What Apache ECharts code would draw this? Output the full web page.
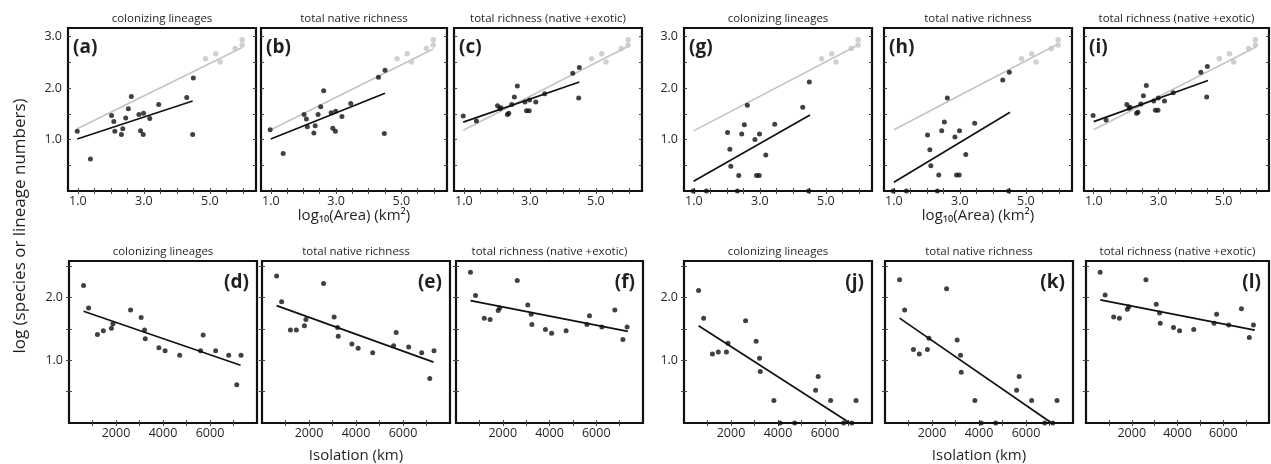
<!DOCTYPE html>
<html><head><meta charset="utf-8">
<script src="https://cdn.jsdelivr.net/npm/echarts@6/dist/echarts.min.js"></script>
<style>html,body{margin:0;padding:0;background:#fff}#c{width:1271px;height:464px}</style>
</head><body><div id="c"></div>
<script>
// ---------- DATA ----------
// log10(Area) of the 19 islands (shared by panels a,b,c,g,h,i)
const areaX = [0.98,1.38,2.02,2.09,2.12,2.32,2.36,2.45,2.53,2.62,2.85,2.90,2.98,2.99,3.18,3.45,4.30,4.48,4.50];
const aY = [1.16,0.62,1.47,1.35,1.16,1.10,1.21,1.42,1.60,1.84,1.49,1.17,1.10,1.51,1.41,1.68,1.82,1.10,2.20];
const bY = [1.19,0.73,1.49,1.40,1.25,1.13,1.27,1.49,1.64,1.95,1.52,1.22,1.16,1.55,1.45,1.70,2.21,1.12,2.35];
const cY = [1.46,1.36,1.66,1.60,1.62,1.49,1.51,1.68,1.83,2.04,1.73,1.56,1.56,1.77,1.73,1.89,2.29,1.81,2.40];
const gY = [0,0,1.14,0.81,0.48,0,0.30,1.11,1.29,1.67,1.00,0.30,0.30,1.11,0.70,1.30,1.63,0,2.12];
const hY = [0,0,1.09,0.80,0.49,0,0.31,1.17,1.34,1.81,1.05,0.31,0.31,1.17,0.71,1.32,2.16,0,2.31];
const iY = [1.47,1.38,1.68,1.61,1.63,1.51,1.53,1.69,1.85,2.05,1.75,1.57,1.57,1.81,1.75,1.91,2.31,1.83,2.42];
// grey comparison points
const greyX = [4.87,5.18,5.31,5.77,5.98,5.98];
const greyY = [2.57,2.67,2.51,2.77,2.94,2.84];
// fitted lines (endpoints)
const aFitBlack = [[0.98,1.01],[4.48,1.75]], aFitGrey = [[0.98,1.21],[5.98,2.79]];
const bFitBlack = [[1.00,1.01],[4.50,1.90]], bFitGrey = [[1.00,1.19],[5.98,2.76]];
const cFitBlack = [[0.98,1.34],[4.50,2.12]], cFitGrey = [[0.98,1.18],[6.00,2.82]];
const gFitBlack = [[0.99,0.19],[4.52,1.48]], gFitGrey = [[0.99,1.17],[5.95,2.83]];
const hFitBlack = [[1.00,0.17],[4.52,1.53]], hFitGrey = [[1.00,1.19],[5.95,2.85]];
const iFitBlack = [[1.00,1.35],[4.52,2.15]], iFitGrey = [[1.00,1.19],[6.00,2.80]];
// isolation (km) of the 19 islands (panels d,e,f,j,k,l)
const isoX = [620,835,1210,1460,1805,1870,2620,3070,3215,3245,3825,4090,4710,5600,5710,6240,6795,7140,7320];
const dY = [2.19,1.83,1.41,1.47,1.51,1.58,1.80,1.68,1.48,1.34,1.20,1.15,1.08,1.15,1.40,1.15,1.08,0.61,1.08];
const eY = [2.34,1.93,1.48,1.48,1.55,1.65,2.22,1.69,1.52,1.38,1.26,1.19,1.12,1.23,1.44,1.21,1.12,0.71,1.15];
const fY = [2.40,2.03,1.67,1.65,1.79,1.83,2.27,1.88,1.73,1.57,1.49,1.43,1.47,1.57,1.71,1.53,1.80,1.33,1.53];
const jY = [2.11,1.67,1.10,1.13,1.13,1.27,1.63,1.30,1.03,0.82,0.36,0,0,0.52,0.74,0.36,0,0,0.36];
const kY = [2.28,1.80,1.17,1.10,1.17,1.35,2.14,1.32,1.08,0.81,0.36,0,0,0.52,0.74,0.36,0,0,0.36];
const lY = [2.40,2.04,1.69,1.67,1.81,1.85,2.28,1.89,1.75,1.59,1.52,1.47,1.49,1.59,1.73,1.56,1.82,1.36,1.56];
const dFit = [[620,1.78],[7300,0.92]];
const eFit = [[620,1.87],[7300,0.97]];
const fFit = [[620,1.95],[7350,1.46]];
const jFit = [[620,1.55],[7060,0]];
const kFit = [[620,1.67],[7090,0]];
const lFit = [[620,1.96],[7380,1.48]];
// tick labels
const areaTickLabels = [1,3,5];
const isoTickLabels = [2000,4000,6000];
const topYTickLabels = [1,2,3];
const bottomYTickLabels = [1,2];
const panelTitles = ['colonizing lineages','total native richness','total richness (native +exotic)'];
const xNameArea = 'log\u2081\u2080(Area) (km\u00B2)';
const xNameIso = 'Isolation (km)';
const yName = 'log (species or lineage numbers)';

// ---------- LAYOUT ----------
const FONT = "'Open Sans','Noto Sans',sans-serif";
const TXT = '#231f20';
const BLACK = '#111111';
const GREY = '#c4c4c4';
const TOP = {top:28, height:163, xmin:0.7, xmax:6.4, ymin:0, ymax:3.17};
const BOT = {top:261, height:162, xmin:0, xmax:8000, ymin:0, ymax:2.58};

const panels = [
  {L:'a', row:TOP, left:68,  width:188, xs:areaX, ys:aY, fb:aFitBlack, fg:aFitGrey, ylab:true, t:0},
  {L:'b', row:TOP, left:261, width:186, xs:areaX, ys:bY, fb:bFitBlack, fg:bFitGrey, ylab:false, t:1},
  {L:'c', row:TOP, left:454, width:188, xs:areaX, ys:cY, fb:cFitBlack, fg:cFitGrey, ylab:false, t:2},
  {L:'g', row:TOP, left:684, width:188, xs:areaX, ys:gY, fb:gFitBlack, fg:gFitGrey, ylab:true, t:0},
  {L:'h', row:TOP, left:884, width:188, xs:areaX, ys:hY, fb:hFitBlack, fg:hFitGrey, ylab:false, t:1},
  {L:'i', row:TOP, left:1084,width:185, xs:areaX, ys:iY, fb:iFitBlack, fg:iFitGrey, ylab:false, t:2},
  {L:'d', row:BOT, left:69,  width:188, xs:isoX, ys:dY, fb:dFit, ylab:true, t:0},
  {L:'e', row:BOT, left:262, width:188, xs:isoX, ys:eY, fb:eFit, ylab:false, t:1},
  {L:'f', row:BOT, left:456, width:187, xs:isoX, ys:fY, fb:fFit, ylab:false, t:2},
  {L:'j', row:BOT, left:684, width:188, xs:isoX, ys:jY, fb:jFit, ylab:true, t:0},
  {L:'k', row:BOT, left:885, width:188, xs:isoX, ys:kY, fb:kFit, ylab:false, t:1},
  {L:'l', row:BOT, left:1086,width:183, xs:isoX, ys:lY, fb:lFit, ylab:false, t:2}
];

const range = (a,b,s)=>{const r=[];for(let v=a;v<=b+1e-9;v+=s)r.push(+v.toFixed(4));return r;};

const grid=[], xAxis=[], yAxis=[], series=[], graphic=[];
panels.forEach((p,i)=>{
  const isTop = p.row===TOP;
  grid.push({left:p.left, top:p.row.top, width:p.width, height:p.row.height, show:true,
    borderColor:BLACK, borderWidth:2.2, backgroundColor:'rgba(0,0,0,0)'});
  const xt = isTop ? range(1,6,0.5) : range(1000,7000,1000);
  const yt = isTop ? range(0.5,3,0.5) : range(0.5,2.5,0.5);
  const tickStyle = {show:true, inside:true, length:3, lineStyle:{color:'#444', width:1}};
  xAxis.push({gridIndex:i, type:'value', min:p.row.xmin, max:p.row.xmax,
    axisLine:{show:false}, splitLine:{show:false},
    axisTick:Object.assign({customValues:xt}, tickStyle),
    axisLabel:{customValues: isTop?areaTickLabels:isoTickLabels, margin:4, fontSize:12.5, color:TXT, fontFamily:FONT,
      formatter: v => isTop ? v.toFixed(1) : String(v)}});
  xAxis.push({gridIndex:i, type:'value', position:'top', min:p.row.xmin, max:p.row.xmax,
    axisLine:{show:false}, splitLine:{show:false},
    axisTick:Object.assign({customValues:xt}, tickStyle), axisLabel:{show:false}});
  yAxis.push({gridIndex:i, type:'value', min:p.row.ymin, max:p.row.ymax,
    axisLine:{show:false}, splitLine:{show:false},
    axisTick:Object.assign({customValues:yt}, tickStyle),
    axisLabel:{show:p.ylab, customValues: isTop?topYTickLabels:bottomYTickLabels, margin:6, fontSize:12.5, color:TXT, fontFamily:FONT,
      formatter: v => v.toFixed(1)}});
  yAxis.push({gridIndex:i, type:'value', position:'right', min:p.row.ymin, max:p.row.ymax,
    axisLine:{show:false}, splitLine:{show:false},
    axisTick:Object.assign({customValues:yt}, tickStyle), axisLabel:{show:false}});
  const xi = 2*i, yi = 2*i;
  if (p.fg) {
    series.push({type:'line', xAxisIndex:xi, yAxisIndex:yi, data:p.fg, symbol:'none', silent:true,
      lineStyle:{color:GREY, width:1.6}, z:2});
    series.push({type:'scatter', xAxisIndex:xi, yAxisIndex:yi, data:greyX.map((x,k)=>[x,greyY[k]]),
      symbolSize:5.5, itemStyle:{color:GREY}, z:3, clip:false});
  }
  series.push({type:'line', xAxisIndex:xi, yAxisIndex:yi, data:p.fb, symbol:'none', silent:true,
    lineStyle:{color:BLACK, width:1.7}, z:4});
  series.push({type:'scatter', xAxisIndex:xi, yAxisIndex:yi, data:p.xs.map((x,k)=>[x,p.ys[k]]),
    symbolSize:5, itemStyle:{color:BLACK}, z:5, clip:false});
  // panel title
  graphic.push({type:'text', x:p.left + p.width/2, y:p.row.top - 9, z:10,
    style:{text:panelTitles[p.t], fill:TXT, font:'11.5px '+FONT, textAlign:'center', textVerticalAlign:'middle'}});
  // panel letter
  if (isTop) {
    graphic.push({type:'text', x:p.left+5, y:p.row.top+20, z:10,
      style:{text:'('+p.L+')', fill:TXT, font:'bold 19px '+FONT, textAlign:'left', textVerticalAlign:'middle'}});
  } else {
    graphic.push({type:'text', x:p.left+p.width-8, y:p.row.top+22, z:10,
      style:{text:'('+p.L+')', fill:TXT, font:'bold 19px '+FONT, textAlign:'right', textVerticalAlign:'middle'}});
  }
});
// axis names
[[354,216,xNameArea],[978,216,xNameArea],[356,456,xNameIso],[979,456,xNameIso]].forEach(([x,y,t])=>{
  graphic.push({type:'text', x:x, y:y, z:10, style:{text:t, fill:TXT, font:'15px '+FONT, textAlign:'center', textVerticalAlign:'middle'}});
});
graphic.push({type:'text', x:20, y:226, rotation:Math.PI/2, z:10,
  style:{text:yName, fill:TXT, font:'17px '+FONT, textAlign:'center', textVerticalAlign:'middle'}});

const chart = echarts.init(document.getElementById('c'), null, {renderer:'canvas'});
chart.setOption({animation:false, backgroundColor:'#fff', grid, xAxis, yAxis, series, graphic});
</script>
</body></html>
